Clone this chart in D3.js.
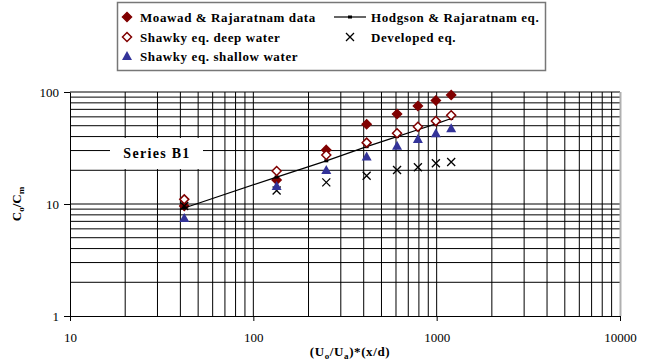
<!DOCTYPE html>
<html>
<head>
<meta charset="utf-8">
<script src="https://cdn.jsdelivr.net/npm/d3@7"></script>
<style>
  body { margin: 0; background: #fff; }
  svg { display: block; }
  text { font-family: "Liberation Serif", "Times New Roman", serif; fill: #000; }
</style>
</head>
<body>
<svg width="656" height="362"></svg>
<script>
// data
const xVals = [42, 134, 250, 415, 608, 790, 990, 1200];
const moawad = [9.6, 16.4, 30.4, 51.5, 63.6, 75, 84, 94];
const hodgson = [9.2, 17.4, 24.3, 32.5, 40, 46, 52, 58];
const shawkyDeep = [11.0, 19.7, 27.4, 35.3, 42.8, 49, 55, 62];
const developed = [9.6, 13.2, 15.6, 17.9, 20.1, 21.3, 23.1, 23.7];
const shawkyShallow = [7.5, 14.5, 20.1, 26.5, 33.2, 38, 42.8, 47.4];

const xTicks = [10, 100, 1000, 10000];
const yTicks = [1, 10, 100];
const seriesNames = ["Moawad & Rajaratnam data", "Hodgson & Rajaratnam eq.",
  "Shawky eq. deep water", "Developed eq.", "Shawky eq. shallow water"];

const svg = d3.select("svg");
const plot = { left: 70, right: 620, top: 92, bottom: 316 };

const x = d3.scaleLog().domain([10, 10000]).range([plot.left, plot.right]);
const y = d3.scaleLog().domain([1, 100]).range([plot.bottom, plot.top]);

const red = "#800000", blue = "#333399";

// grid lines (major + minor)
const gx = [], gy = [];
for (let d = 10; d < 10000; d *= 10) for (let k = 1; k <= 9; k++) gx.push(d * k);
for (let d = 1; d < 100; d *= 10) for (let k = 1; k <= 9; k++) gy.push(d * k);
gy.push(100);

const grid = svg.append("g");
grid.selectAll(".vg").data(gx.filter(v => v > 10)).enter().append("line")
  .attr("x1", d => x(d)).attr("x2", d => x(d))
  .attr("y1", plot.top).attr("y2", plot.bottom)
  .attr("stroke", "#000").attr("stroke-width", 1);
grid.selectAll(".hg").data(gy.filter(v => v > 1)).enter().append("line")
  .attr("x1", plot.left).attr("x2", plot.right)
  .attr("y1", d => y(d)).attr("y2", d => y(d))
  .attr("stroke", "#000").attr("stroke-width", 1);

// right border of plot area
svg.append("line").attr("x1", plot.right + 0.5).attr("x2", plot.right + 0.5)
  .attr("y1", plot.top).attr("y2", plot.bottom)
  .attr("stroke", "#b0b0b0").attr("stroke-width", 2);

// axes
const xAxis = d3.axisBottom(x).tickValues(xTicks).tickFormat(d3.format("d"))
  .tickSizeInner(5).tickSizeOuter(0).tickPadding(12);
const yAxis = d3.axisLeft(y).tickValues(yTicks).tickFormat(d3.format("d"))
  .tickSizeInner(6).tickSizeOuter(0).tickPadding(5);

const gxA = svg.append("g").attr("transform", `translate(0,${plot.bottom})`).call(xAxis);
const gyA = svg.append("g").attr("transform", `translate(${plot.left},0)`).call(yAxis);
[gxA, gyA].forEach(g => {
  g.select(".domain").attr("stroke", "#000");
  g.selectAll(".tick line").attr("stroke", "#000");
  g.selectAll(".tick text").attr("font-size", 13).attr("fill", "#000");
});

// "Series B1" label
const lab = svg.append("g");
lab.append("rect").attr("x", 110).attr("y", 138).attr("width", 93).attr("height", 31).attr("fill", "#fff");
lab.append("text").attr("x", 157).attr("y", 158).attr("text-anchor", "middle")
  .attr("font-weight", "bold").attr("font-size", 14).attr("letter-spacing", 1.3)
  .text("Series B1");

// marker helpers
function diamond(g, cx, cy, fill, stroke) {
  const r = 4.5;
  g.append("path").attr("d", `M${cx},${cy - r}L${cx + r},${cy}L${cx},${cy + r}L${cx - r},${cy}Z`)
    .attr("fill", fill).attr("stroke", stroke).attr("stroke-width", 1.5);
}
function triangle(g, cx, cy) {
  g.append("path").attr("d", `M${cx},${cy - 5}L${cx + 5},${cy + 4}L${cx - 5},${cy + 4}Z`)
    .attr("fill", blue);
}
function cross(g, cx, cy) {
  const r = 4;
  g.append("path").attr("d", `M${cx - r},${cy - r}L${cx + r},${cy + r}M${cx - r},${cy + r}L${cx + r},${cy - r}`)
    .attr("stroke", "#000").attr("stroke-width", 1.3).attr("fill", "none");
}
function square(g, cx, cy) {
  g.append("rect").attr("x", cx - 2).attr("y", cy - 1.5).attr("width", 4).attr("height", 3).attr("fill", "#000");
}

const marks = svg.append("g");
// series 1: Moawad & Rajaratnam data
xVals.forEach((v, i) => diamond(marks, x(v), y(moawad[i]), red, red));
// series 2: Hodgson & Rajaratnam eq.
const line = d3.line().x((d, i) => x(xVals[i])).y(d => y(d));
marks.append("path").datum(hodgson).attr("d", line)
  .attr("fill", "none").attr("stroke", "#000").attr("stroke-width", 1.2);
xVals.forEach((v, i) => square(marks, x(v), y(hodgson[i])));
// series 3: Shawky deep water
xVals.forEach((v, i) => diamond(marks, x(v), y(shawkyDeep[i]), "#fff", red));
// series 4: developed eq.
xVals.forEach((v, i) => cross(marks, x(v), y(developed[i])));
// series 5: Shawky shallow water
xVals.forEach((v, i) => triangle(marks, x(v), y(shawkyShallow[i])));

// axis titles
const yt = svg.append("text").attr("transform", "translate(21,204) rotate(-90)")
  .attr("text-anchor", "middle").attr("font-weight", "bold").attr("font-size", 13);
yt.append("tspan").text("C");
yt.append("tspan").attr("font-size", 9).attr("dy", 3).text("o");
yt.append("tspan").attr("dy", -3).text("/C");
yt.append("tspan").attr("font-size", 9).attr("dy", 3).text("m");

const xt = svg.append("text").attr("x", 350).attr("y", 356)
  .attr("text-anchor", "middle").attr("font-weight", "bold").attr("font-size", 13)
  .attr("letter-spacing", 0.6);
xt.append("tspan").text("(U");
xt.append("tspan").attr("font-size", 9).attr("dy", 3).text("o");
xt.append("tspan").attr("dy", -3).text("/U");
xt.append("tspan").attr("font-size", 9).attr("dy", 3).text("a");
xt.append("tspan").attr("dy", -3).text(")*(x/d)");

// legend
const leg = svg.append("g");
leg.append("rect").attr("x", 117.5).attr("y", 2.5).attr("width", 428).attr("height", 68)
  .attr("fill", "#fff").attr("stroke", "#777").attr("stroke-width", 1.5);
const col1 = 127, col2 = 350, rows = [17, 37, 56];
const legItems = [
  { name: seriesNames[0], cx: col1, cy: rows[0], draw: (g, cx, cy) => diamond(g, cx, cy, red, red) },
  { name: seriesNames[1], cx: col2, cy: rows[0], draw: (g, cx, cy) => {
      g.append("line").attr("x1", cx - 16).attr("x2", cx + 16).attr("y1", cy).attr("y2", cy)
        .attr("stroke", "#000").attr("stroke-width", 1.2);
      square(g, cx, cy);
    } },
  { name: seriesNames[2], cx: col1, cy: rows[1], draw: (g, cx, cy) => diamond(g, cx, cy, "#fff", red) },
  { name: seriesNames[3], cx: col2, cy: rows[1], draw: cross },
  { name: seriesNames[4], cx: col1, cy: rows[2], draw: triangle }
];
legItems.forEach(it => {
  it.draw(leg, it.cx, it.cy);
  leg.append("text").attr("x", it.cx + (it.cx === col1 ? 13 : 21)).attr("y", it.cy + 4.5)
    .attr("font-weight", "bold").attr("font-size", 13).attr("letter-spacing", 0.6)
    .text(it.name);
});
</script>
</body>
</html>
